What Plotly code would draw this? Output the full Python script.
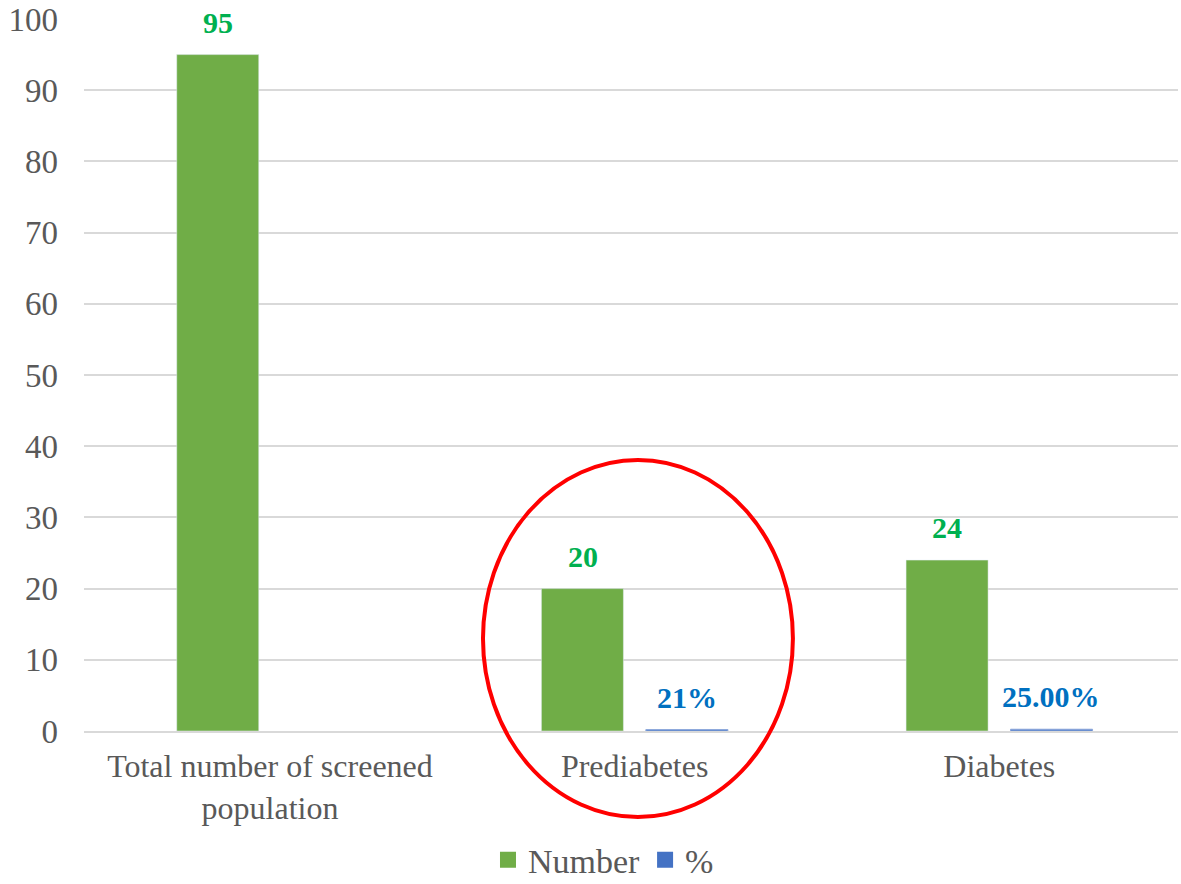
import plotly.graph_objects as go

categories = ["Total number of screened<br>population", "Prediabetes", "Diabetes"]
number_values = [95, 20, 24]
number_labels = ["95", "20", "24"]
pct_values = [None, 0.21, 0.25]
pct_labels = ["", "21%", "25.00%"]

FONT = "Liberation Serif, Times New Roman, serif"
GREEN = "#70AD47"
BLUE = "#4472C4"

fig = go.Figure()
fig.add_trace(go.Bar(
    x=categories, y=number_values, name="Number", showlegend=False,
    marker=dict(color=GREEN),
))
fig.add_trace(go.Bar(
    x=categories, y=pct_values, name="%", showlegend=False,
    marker=dict(color=BLUE, line=dict(color="#8FAADC", width=1)),
))
# legend-only entries with larger square symbols
for nm, col in [("Number", GREEN), ("%", BLUE)]:
    fig.add_trace(go.Scatter(
        x=[None], y=[None], mode="markers", name=nm,
        marker=dict(symbol="square", size=19, color=col),
    ))

# data labels as annotations above each bar
annotations = []
for cat, v, lab in zip(categories, number_values, number_labels):
    annotations.append(dict(x=cat, y=v, xref="x", yref="y", text=f"<b>{lab}</b>",
                            showarrow=False, xshift=-52, yshift=14, yanchor="bottom",
                            font=dict(family=FONT, size=30, color="#00B050")))
for cat, v, lab in zip(categories, pct_values, pct_labels):
    if v is None:
        continue
    annotations.append(dict(x=cat, y=v, xref="x", yref="y", text=f"<b>{lab}</b>",
                            showarrow=False, xshift=52, yshift=14, yanchor="bottom",
                            font=dict(family=FONT, size=30, color="#0070C0")))

fig.update_layout(
    width=1181, height=884,
    margin=dict(l=84, r=3, t=19, b=153, autoexpand=False),
    paper_bgcolor="white", plot_bgcolor="white",
    barmode="group", bargap=0.427, bargroupgap=0.215,
    font=dict(family=FONT, size=32, color="#595959"),
    showlegend=True,
    legend=dict(orientation="h", x=0.511, xanchor="center", xref="container",
                y=0.027, yanchor="middle", yref="container",
                font=dict(family=FONT, size=34, color="#595959"),
                itemwidth=30, tracegroupgap=0),
    xaxis=dict(showgrid=False, showline=True, linecolor="#D9D9D9", linewidth=1.5,
               ticks="", automargin=False, ticklabelstandoff=6, range=[-0.51, 2.49],
               tickfont=dict(family=FONT, size=32, color="#595959")),
    yaxis=dict(range=[0, 100], dtick=10, showgrid=True, gridcolor="#D9D9D9", gridwidth=1.5,
               zeroline=False, showline=False, ticks="", automargin=False,
               tickfont=dict(family=FONT, size=33, color="#595959"), ticklabelstandoff=25),
    annotations=annotations,
    shapes=[dict(type="circle", xref="paper", yref="paper",
                 x0=0.3647, x1=0.648, y0=-0.1208, y1=0.3806,
                 line=dict(color="#FF0000", width=4), fillcolor="rgba(0,0,0,0)")],
)

fig.write_html("out.html")
